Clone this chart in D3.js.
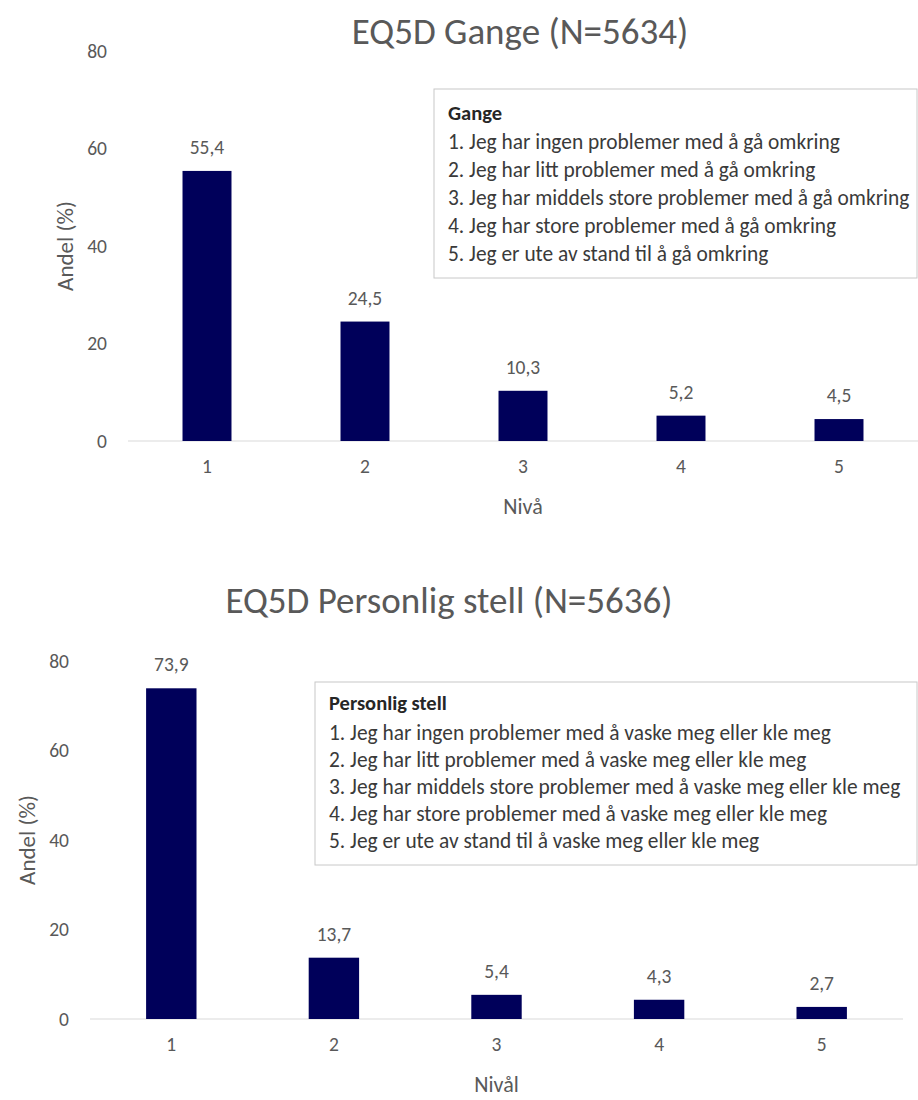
<!DOCTYPE html>
<html>
<head>
<meta charset="utf-8">
<script src="https://cdn.jsdelivr.net/npm/d3@7"></script>
<style>
  body { margin: 0; background: #fff; }
  svg text { font-family: Carlito, Lato, "Open Sans", sans-serif; }
</style>
</head>
<body>
<svg id="chart" width="918" height="1100"></svg>
<script>
// Levels on the x axis (EQ-5D-5L answer levels)
const levels = ["1", "2", "3", "4", "5"];
// Share of respondents (%) per level
const gangeValues = [55.4, 24.5, 10.3, 5.2, 4.5];
const stellValues = [73.9, 13.7, 5.4, 4.3, 2.7];
// Value axis ticks
const yTicks = [0, 20, 40, 60, 80];

const gangeLegendTitle = "Gange";
const gangeLegend = [
  "1. Jeg har ingen problemer med å gå omkring",
  "2. Jeg har litt problemer med å gå omkring",
  "3. Jeg har middels store problemer med å gå omkring",
  "4. Jeg har store problemer med å gå omkring",
  "5. Jeg er ute av stand til å gå omkring"
];
const stellLegendTitle = "Personlig stell";
const stellLegend = [
  "1. Jeg har ingen problemer med å vaske meg eller kle meg",
  "2. Jeg har litt problemer med å vaske meg eller kle meg",
  "3. Jeg har middels store problemer med å vaske meg eller kle meg",
  "4. Jeg har store problemer med å vaske meg eller kle meg",
  "5. Jeg er ute av stand til å vaske meg eller kle meg"
];

const BAR = "#00005a";
const GREY = "#595959";
const fmt = v => d3.format(".1f")(v).replace(".", ",");

const svg = d3.select("#chart");

function panel(cfg) {
  const g = svg.append("g");

  // chart title
  g.append("text")
    .attr("x", cfg.titleX).attr("y", cfg.titleY)
    .attr("text-anchor", "middle")
    .attr("fill", GREY)
    .attr("font-size", 37)
    .text(cfg.title);

  const x = d3.scaleBand().domain(levels).range([cfg.left, cfg.right])
    .paddingInner(0.69).paddingOuter(0.345);
  const y = d3.scaleLinear().domain([0, 80]).range([cfg.bottom, cfg.top]);

  // value axis labels (no axis line)
  const ya = g.append("g").attr("transform", `translate(${cfg.left},0)`)
    .call(d3.axisLeft(y).tickValues(yTicks).tickSize(0).tickPadding(21).tickFormat(d3.format("d")));
  ya.select(".domain").remove();
  ya.selectAll("text").attr("fill", GREY).attr("font-size", 19.5).attr("font-family", null);

  // baseline
  g.append("line")
    .attr("x1", cfg.left).attr("x2", cfg.right)
    .attr("y1", y(0)).attr("y2", y(0))
    .attr("stroke", "#d9d9d9").attr("stroke-width", 1.2);

  // category labels
  const xa = g.append("g").attr("transform", `translate(0,${y(0)})`)
    .call(d3.axisBottom(x).tickSize(0).tickPadding(18));
  xa.select(".domain").remove();
  xa.selectAll("text").attr("fill", GREY).attr("font-size", 19.5).attr("font-family", null);

  // bars
  g.selectAll("rect.bar").data(cfg.values).enter().append("rect")
    .attr("class", "bar")
    .attr("x", (d, i) => x(levels[i]))
    .attr("width", x.bandwidth())
    .attr("y", d => y(d))
    .attr("height", d => y(0) - y(d))
    .attr("fill", BAR);

  // value labels above the bars
  g.selectAll("text.val").data(cfg.values).enter().append("text")
    .attr("class", "val")
    .attr("x", (d, i) => x(levels[i]) + x.bandwidth() / 2)
    .attr("y", d => y(d) - 17)
    .attr("text-anchor", "middle")
    .attr("fill", GREY)
    .attr("font-size", 19.5)
    .text(fmt);

  // axis titles
  g.append("text")
    .attr("transform", `translate(${cfg.yTitleX},${(y(0) + y(80)) / 2}) rotate(-90)`)
    .attr("text-anchor", "middle").attr("dy", "0.35em")
    .attr("fill", GREY).attr("font-size", 23)
    .text("Andel (%)");
  g.append("text")
    .attr("x", (cfg.left + cfg.right) / 2).attr("y", cfg.xTitleY)
    .attr("text-anchor", "middle")
    .attr("fill", GREY).attr("font-size", 22)
    .text(cfg.xTitle);

  // legend box with level descriptions
  const lg = g.append("g");
  lg.append("rect")
    .attr("x", cfg.lx).attr("y", cfg.ly).attr("width", cfg.lw).attr("height", cfg.lh)
    .attr("fill", "#fff").attr("stroke", "#c8c8c8").attr("stroke-width", 1);
  lg.append("text")
    .attr("x", cfg.lx + 14).attr("y", cfg.ly + cfg.lTitleOff)
    .attr("font-size", 20.5).attr("font-weight", "bold").attr("fill", "#262626")
    .text(cfg.legendTitle);
  lg.selectAll("text.item").data(cfg.legend).enter().append("text")
    .attr("class", "item")
    .attr("x", cfg.lx + 14)
    .attr("y", (d, i) => cfg.ly + cfg.lTitleOff + cfg.lFirst + i * cfg.lstep)
    .attr("font-size", 21.4).attr("fill", "#3a3a3a")
    .text(d => d);
}

panel({
  title: "EQ5D Gange (N=5634)", titleX: 520, titleY: 44,
  values: gangeValues, left: 128, right: 918, top: 51, bottom: 441,
  yTitleX: 65, xTitle: "Nivå", xTitleY: 514,
  legendTitle: gangeLegendTitle, legend: gangeLegend,
  lx: 434, ly: 89, lw: 483, lh: 189, lTitleOff: 31, lFirst: 29, lstep: 28
});

panel({
  title: "EQ5D Personlig stell (N=5636)", titleX: 449, titleY: 613,
  values: stellValues, left: 90, right: 903, top: 661, bottom: 1019,
  yTitleX: 27, xTitle: "Nivål", xTitleY: 1092,
  legendTitle: stellLegendTitle, legend: stellLegend,
  lx: 315, ly: 682, lw: 602, lh: 183, lTitleOff: 28, lFirst: 30, lstep: 27
});
</script>
</body>
</html>
